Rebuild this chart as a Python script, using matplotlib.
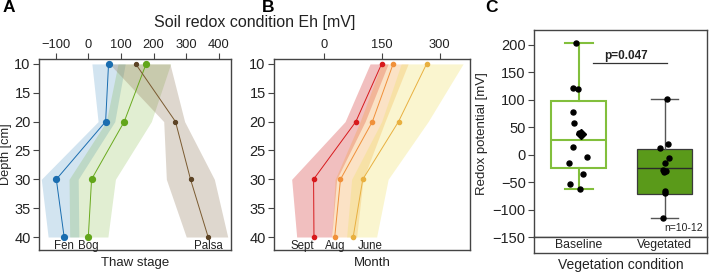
import numpy as np
import matplotlib
matplotlib.use("Agg")
import matplotlib.pyplot as plt

plt.rcParams['font.family'] = ['Liberation Sans', 'DejaVu Sans']

# ---------------- data ----------------
depths = [10, 20, 30, 40]

# Panel A: thaw stage
thaw_names = ["Fen", "Bog", "Palsa"]
fen_mean = [62, 53, -98, -74]
fen_low = [11, 30, -144, -123]
fen_high = [113, 81, -31, -29]
bog_mean = [177, 110, 10, 0]
bog_low = [91, 55, -59, -57]
bog_high = [252, 193, 83, 60]
palsa_mean = [145, 267, 313, 367]
palsa_low = [65, 231, 239, 300]
palsa_high = [250, 295, 386, 427]

# Panel B: month
month_names = ["Sept", "Aug", "June"]
sept_mean = [149, 82, -28, -27]
sept_low = [119, 54, -85, -72]
sept_high = [166, 106, 32, 19]
aug_mean = [179, 125, 42, 27]
aug_low = [149, 93, 28, 19]
aug_high = [218, 158, 101, 84]
june_mean = [266, 193, 100, 75]
june_low = [200, 149, 71, 58]
june_high = [361, 270, 166, 136]

# Panel C: vegetation condition
veg_categories = ["Baseline", "Vegetated"]
baseline_points = [203, 122, 119, 77.5, 57, 39, 15, -4, -14.5, -34.5, -53.7, -62]
vegetated_points = [102, 19, 12, -5, -15, -28, -30, -32, -65, -70, -115]
baseline_jitter = [-0.03, -0.07, -0.015, -0.07, -0.055, 0.0, -0.07, 0.09, -0.11, 0.05, -0.10, 0.01]
vegetated_jitter = [0.03, 0.04, -0.05, 0.05, 0.0, -0.02, 0.01, -0.01, 0.0, 0.0, -0.02]
box_q1 = [-24.6, -71.4]
box_med = [26.4, -24.6]
box_q3 = [98, 10.6]
box_wlo = [-62, -114.5]
box_whi = [203, 101.6]
baseline_mean = 38.5
p_text = "p=0.047"
n_text = "n=10-12"

# ---------------- figure ----------------
W, H = 709, 273
fig = plt.figure(figsize=(W / 100, H / 100), dpi=100)

def rect(l, t, r, b):
    return [l / W, 1 - b / H, (r - l) / W, (b - t) / H]

spine_col = "#444444"
txt_col = "#222222"

axA = fig.add_axes(rect(39, 59.3, 231, 250))
axB = fig.add_axes(rect(274, 59.3, 470, 250))
axC = fig.add_axes(rect(534, 30, 706.7, 237.3))
axC2 = fig.add_axes(rect(534, 237.3, 706.7, 252.7))

def style_profile(ax):
    ax.xaxis.tick_top()
    ax.set_ylim(42.25, 9.2)
    ax.set_yticks([10, 15, 20, 25, 30, 35, 40])
    ax.tick_params(axis='x', labelsize=9.3, length=4, color=spine_col, labelcolor=txt_col, pad=2)
    ax.tick_params(axis='y', labelsize=10.5, length=4, color=spine_col, labelcolor=txt_col, pad=2)
    for s in ax.spines.values():
        s.set_color(spine_col)
        s.set_linewidth(1.0)

# Panel A
seriesA = [
    (fen_mean, fen_low, fen_high, "#1f78b4", 0.2, "#1a6db0", "#1a6db0", 4.2),
    (bog_mean, bog_low, bog_high, "#6aaa1e", 0.2, "#6aaa1e", "#62a61a", 4.2),
    (palsa_mean, palsa_low, palsa_high, "#8a7050", 0.28, "#7a5a30", "#5c4325", 2.8),
]
for mean, lo, hi, fc, a, lc, mc, ms in seriesA:
    axA.fill_betweenx(depths, lo, hi, color=fc, alpha=a, lw=0)
    axA.plot(mean, depths, color=lc, lw=0.7, marker='o', ms=ms, mfc=mc, mec=mc, zorder=3)
for name, mean in zip(thaw_names, [fen_mean, bog_mean, palsa_mean]):
    axA.text(mean[-1], 41.6, name, ha='center', va='center', fontsize=8.3, color=txt_col)
axA.set_xlim(-151, 437)
axA.set_xticks([-100, 0, 100, 200, 300, 400])
style_profile(axA)
axA.set_xlabel("Thaw stage", fontsize=9.5, color=txt_col, labelpad=5)
axA.set_ylabel("Depth [cm]", fontsize=9.2, color=txt_col, labelpad=1.5)

# Panel B
seriesB = [
    (sept_mean, sept_low, sept_high, "#d94848", 0.35, "#d7191c"),
    (aug_mean, aug_low, aug_high, "#f5a040", 0.3, "#f0903a"),
    (june_mean, june_low, june_high, "#f0e060", 0.3, "#e8b040"),
]
for mean, lo, hi, fc, a, mc in seriesB:
    axB.fill_betweenx(depths, lo, hi, color=fc, alpha=a, lw=0)
    axB.plot(mean, depths, color=mc, lw=0.7, marker='o', ms=3.0, mfc=mc, mec=mc, zorder=3)
label_dx = [-12, 0, 17]
for name, mean, dx in zip(month_names, [sept_mean, aug_mean, june_mean], label_dx):
    axB.annotate(name, (mean[-1], 41.6), xytext=(dx, 0), textcoords='offset pixels',
                 ha='center', va='center', fontsize=8.3, color=txt_col)
axB.set_xlim(-131, 379)
axB.set_xticks([0, 150, 300])
style_profile(axB)
axB.set_xlabel("Month", fontsize=9.5, color=txt_col, labelpad=5)

fig.text(255 / W, 1 - 23 / H, "Soil redox condition Eh [mV]", ha='center', va='center',
         fontsize=11.5, color=txt_col)

# Panel C
base_green = "#82bf3c"
veg_fill = "#5a9a1a"
stats = []
for i in range(2):
    stats.append(dict(q1=box_q1[i], med=box_med[i], q3=box_q3[i],
                      whislo=box_wlo[i], whishi=box_whi[i], fliers=[], label=veg_categories[i]))
axC.bxp([stats[0]], positions=[0], widths=0.64, patch_artist=True, showfliers=False,
        boxprops=dict(facecolor='white', edgecolor=base_green, linewidth=1.5),
        medianprops=dict(color=base_green, linewidth=1.5),
        whiskerprops=dict(color=base_green, linewidth=1.5),
        capprops=dict(color=base_green, linewidth=1.5), capwidths=0.33)
axC.bxp([stats[1]], positions=[1], widths=0.64, patch_artist=True, showfliers=False,
        boxprops=dict(facecolor=veg_fill, edgecolor="#3a3a3a", linewidth=0.9),
        medianprops=dict(color="#2a2a2a", linewidth=1.0),
        whiskerprops=dict(color="#555555", linewidth=1.0),
        capprops=dict(color="#555555", linewidth=1.0), capwidths=0.31)
axC.plot(np.zeros(len(baseline_points)) + np.array(baseline_jitter), baseline_points, 'o',
         color='black', ms=3.6, zorder=4)
axC.plot(np.ones(len(vegetated_points)) + np.array(vegetated_jitter), vegetated_points, 'o',
         color='black', ms=3.6, zorder=4)
axC.plot([0.03], [baseline_mean], 'D', color='black', ms=5, zorder=5)
axC.plot([0.16, 1.03], [166.7, 166.7], color='#333333', lw=0.9)
axC.text(0.55, 168, p_text, ha='center', va='bottom', fontsize=8.5, fontweight='bold', color=txt_col)
axC.text(0.98, 0.02, n_text, transform=axC.transAxes, ha='right', va='bottom', fontsize=7.5, color=txt_col)
axC.set_xlim(-0.523, 1.49)
axC.set_ylim(-150, 227)
axC.set_yticks([-150, -100, -50, 0, 50, 100, 150, 200])
axC.set_xticks([])
axC.tick_params(axis='y', labelsize=10.5, length=4, color=spine_col, labelcolor=txt_col, pad=2)
axC.set_ylabel("Redox potential [mV]", fontsize=9.5, color=txt_col, labelpad=3)
for s in axC.spines.values():
    s.set_color(spine_col)
    s.set_linewidth(1.0)

axC2.set_xlim(-0.523, 1.49)
axC2.set_ylim(0, 1)
axC2.set_xticks([])
axC2.set_yticks([])
for i, c in enumerate(veg_categories):
    axC2.text(i, 0.5, c, ha='center', va='center', fontsize=8.8, color=txt_col)
for s in axC2.spines.values():
    s.set_color(spine_col)
    s.set_linewidth(1.0)
axC2.set_xlabel("Vegetation condition", fontsize=10, color=txt_col, labelpad=4)

for letter, x, y in [("A", 9, 8), ("B", 268, 7), ("C", 492, 8)]:
    fig.text(x / W, 1 - y / H, letter, ha='center', va='center', fontsize=12.5,
             fontweight='bold', color='black')

fig.savefig("out.png", dpi=100)
